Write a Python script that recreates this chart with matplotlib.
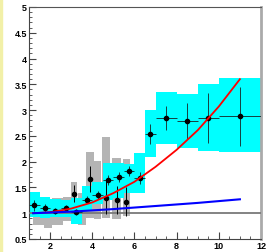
import numpy as np
import matplotlib
matplotlib.use("Agg")
import matplotlib.pyplot as plt
from matplotlib.patches import Rectangle
from matplotlib.ticker import MultipleLocator

# cyan data set: points, bin half-widths, stat errors, systematic box range
cyan_x = [1.25, 1.75, 2.25, 2.75, 3.25, 3.75, 4.25, 4.75, 5.25, 5.75, 6.25, 6.75, 7.5, 8.5, 9.5, 11.0]
cyan_xerr = [0.25, 0.25, 0.25, 0.25, 0.25, 0.25, 0.25, 0.25, 0.25, 0.25, 0.25, 0.25, 0.5, 0.5, 0.5, 1.0]
cyan_y = [1.15, 1.10, 1.05, 1.10, 1.02, 1.26, 1.35, 1.64, 1.70, 1.82, 1.68, 2.54, 2.84, 2.79, 2.85, 2.88]
cyan_yerr = [0.10, 0.07, 0.06, 0.06, 0.06, 0.07, 0.08, 0.10, 0.10, 0.10, 0.12, 0.20, 0.23, 0.35, 0.48, 0.57]
cyan_sys_lo = [0.92, 0.91, 0.93, 0.92, 0.80, 1.07, 1.17, 1.25, 1.30, 1.40, 1.40, 2.09, 2.34, 2.27, 2.21, 2.19]
cyan_sys_hi = [1.41, 1.32, 1.27, 1.25, 1.30, 1.53, 1.60, 1.97, 1.98, 1.96, 2.17, 3.00, 3.35, 3.32, 3.50, 3.62]

# grey data set
grey_x = [1.45, 1.90, 2.35, 2.80, 3.14, 3.50, 3.88, 4.25, 4.64, 5.15, 5.62]
grey_xw = [0.25, 0.20, 0.25, 0.20, 0.15, 0.20, 0.18, 0.18, 0.20, 0.20, 0.15]
grey_y = [1.00, 0.95, 1.00, 1.05, 1.38, 1.10, 1.66, 1.35, 1.30, 1.25, 1.22]
grey_yerr = [0.00, 0.00, 0.00, 0.00, 0.17, 0.00, 0.25, 0.00, 0.32, 0.27, 0.28]
grey_sys_lo = [0.78, 0.72, 0.78, 0.85, 0.85, 0.78, 0.90, 0.88, 0.90, 0.88, 0.95]
grey_sys_hi = [1.20, 1.15, 1.30, 1.32, 1.60, 1.40, 2.19, 2.02, 2.47, 2.08, 2.05]
grey_shown = [False, False, False, False, True, False, True, False, True, True, True]

# model curves
red_x = [1.2, 2.0, 3.0, 4.0, 5.0, 6.0, 7.0, 8.0, 9.0, 10.0, 11.0]
red_y = [1.00, 1.02, 1.09, 1.21, 1.39, 1.61, 1.90, 2.23, 2.61, 3.07, 3.60]
blue_x = [1.2, 3.0, 5.0, 7.0, 9.0, 11.0]
blue_y = [1.00, 1.03, 1.08, 1.14, 1.20, 1.27]

fig = plt.figure(figsize=(2.67, 2.53), dpi=100)
fig.patches.append(Rectangle((0, 0), 0.008, 1, transform=fig.transFigure,
                             color="#f2f0a8", zorder=0))
ax = fig.add_axes([0.1086, 0.0514, 0.8689, 0.9170])

for x, w, lo, hi in zip(grey_x, grey_xw, grey_sys_lo, grey_sys_hi):
    ax.add_patch(Rectangle((x - w, lo), 2 * w, hi - lo, color="#b4b4b4", lw=0, zorder=1))
for x, w, lo, hi in zip(cyan_x, cyan_xerr, cyan_sys_lo, cyan_sys_hi):
    ax.add_patch(Rectangle((x - w, lo), 2 * w, hi - lo, color="#00ffff", lw=0, zorder=2))

ax.axhline(1.0, color="#7a7a7a", lw=1.3, zorder=3)

gx = [x for x, s in zip(grey_x, grey_shown) if s]
gy = [y for y, s in zip(grey_y, grey_shown) if s]
ge = [e for e, s in zip(grey_yerr, grey_shown) if s]
ax.errorbar(gx, gy, yerr=ge, fmt="o", color="black", ms=3, lw=0.7,
            capsize=0, zorder=4)
ax.errorbar(cyan_x, cyan_y, xerr=cyan_xerr, yerr=cyan_yerr, fmt="o",
            color="black", ecolor="#153f3f", ms=3, lw=0.7, capsize=0, zorder=4)

ax.plot(red_x, red_y, color="#ff0000", lw=1.3, zorder=5)
ax.plot(blue_x, blue_y, color="#0000ff", lw=1.5, zorder=5)

ax.set_xlim(1, 12)
ax.set_ylim(0.5, 5)
ax.xaxis.set_major_locator(MultipleLocator(2))
ax.xaxis.set_minor_locator(MultipleLocator(0.5))
ax.yaxis.set_minor_locator(MultipleLocator(0.1))
ax.set_yticks(np.arange(0.5, 5.01, 0.5))
ax.set_yticklabels(["0.5", "1", "1.5", "2", "2.5", "3", "3.5", "4", "4.5", "5"])
ax.tick_params(which="both", direction="in", top=False, right=False,
               labelsize=6.5, pad=1.5, color="#444444")
ax.tick_params(which="major", length=5, width=0.8)
ax.tick_params(which="minor", length=2.5, width=0.6)
for lab in ax.get_xticklabels() + ax.get_yticklabels():
    lab.set_fontweight("bold")
    lab.set_family("Liberation Sans")

ax.spines["left"].set_color("#444444")
ax.spines["top"].set_color("#555555")
ax.spines["bottom"].set_color("#444444")
ax.spines["right"].set_color("#aaaaaa")
ax.spines["right"].set_linewidth(2)

fig.savefig("out.png", dpi=100)
